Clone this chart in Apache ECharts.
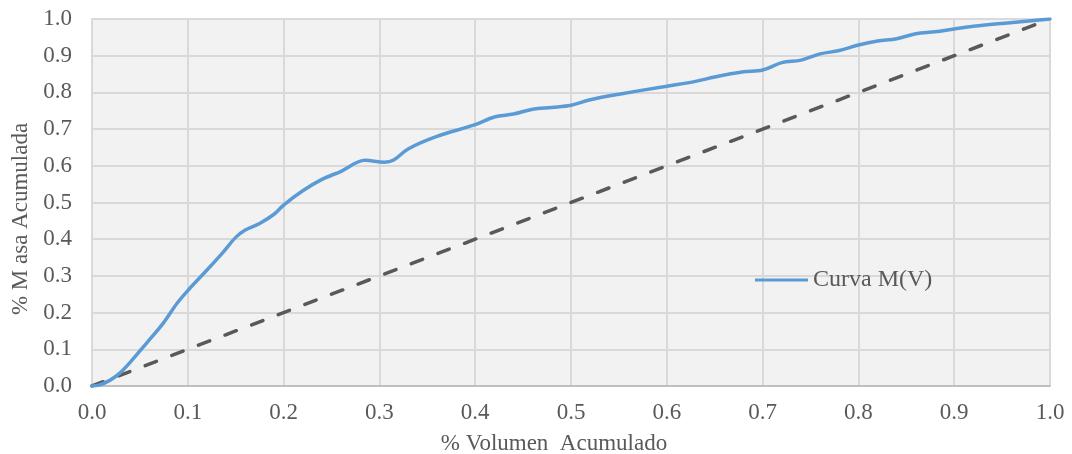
<!DOCTYPE html>
<html>
<head>
<meta charset="utf-8">
<script src="https://cdn.jsdelivr.net/npm/echarts@6/dist/echarts.min.js"></script>
<style>html,body{margin:0;padding:0;background:#fff}#c{width:1072px;height:454px}</style>
</head>
<body>
<div id="c"></div>
<script>
// Data
const volumen = [0, 0.008, 0.019, 0.029, 0.04, 0.057, 0.074, 0.089, 0.10, 0.12, 0.137, 0.15, 0.16, 0.175, 0.19, 0.2, 0.22, 0.24, 0.26, 0.285, 0.305, 0.315, 0.33, 0.36, 0.4, 0.42, 0.44, 0.46, 0.48, 0.5, 0.52, 0.55, 0.6, 0.63, 0.65, 0.68, 0.7, 0.72, 0.74, 0.76, 0.78, 0.8, 0.82, 0.84, 0.86, 0.88, 0.9, 0.92, 0.95, 1.0];
const masa =    [0, 0.003, 0.016, 0.035, 0.065, 0.117, 0.17, 0.226, 0.26, 0.316, 0.365, 0.405, 0.425, 0.443, 0.468, 0.493, 0.532, 0.563, 0.585, 0.615, 0.61, 0.616, 0.646, 0.68, 0.712, 0.733, 0.741, 0.754, 0.759, 0.765, 0.78, 0.795, 0.817, 0.83, 0.842, 0.856, 0.861, 0.881, 0.888, 0.905, 0.914, 0.929, 0.94, 0.946, 0.96, 0.965, 0.973, 0.98, 0.988, 1.0];
const diagX = [0, 1];
const diagY = [0, 1];
const serieNombre = 'Curva M(V)';
const tituloX = '% Volumen  Acumulado';
const tituloY = '% M asa Acumulada';

const font = '"Liberation Serif", "Times New Roman", serif';
const chart = echarts.init(document.getElementById('c'), null, {renderer: 'canvas'});
chart.setOption({
  animation: false,
  backgroundColor: '#ffffff',
  grid: {left: 92, right: 22, top: 19, bottom: 68, show: true, backgroundColor: '#f2f2f2', borderWidth: 0, outerBoundsMode: 'none', containLabel: false},
  legend: {
    data: [serieNombre],
    left: 750, top: 263,
    itemWidth: 53, itemHeight: 3, itemGap: 0,
    icon: 'rect',
    textStyle: {fontFamily: font, fontSize: 24, color: '#595959'}
  },
  xAxis: {
    type: 'value', min: 0, max: 1, interval: 0.1,
    name: tituloX, nameLocation: 'middle', nameGap: 46,
    nameTextStyle: {fontFamily: font, fontSize: 23, color: '#595959', padding: [0, 34, 0, 0]},
    axisLine: {show: true, lineStyle: {color: '#bfbfbf', width: 2}},
    axisTick: {show: false},
    splitLine: {show: true, lineStyle: {color: '#d9d9d9', width: 2}},
    axisLabel: {fontFamily: font, fontSize: 23, color: '#595959', margin: 15, formatter: v => v.toFixed(1)}
  },
  yAxis: {
    type: 'value', min: 0, max: 1, interval: 0.1,
    name: tituloY, nameLocation: 'middle', nameGap: 58,
    nameTextStyle: {fontFamily: font, fontSize: 23, color: '#595959', padding: [0, 33, 0, 0]},
    axisLine: {show: true, lineStyle: {color: '#d9d9d9', width: 2}},
    axisTick: {show: false},
    splitLine: {show: true, lineStyle: {color: '#d9d9d9', width: 2}},
    axisLabel: {fontFamily: font, fontSize: 23, color: '#595959', margin: 20, formatter: v => v.toFixed(1)}
  },
  series: [
    {
      name: 'Diagonal', type: 'line', showSymbol: false, symbol: 'none',
      data: diagX.map((x, i) => [x, diagY[i]]),
      lineStyle: {color: '#595959', width: 3.5, type: [12, 16.5], cap: 'round'},
      z: 2
    },
    {
      name: serieNombre, type: 'line', showSymbol: false, symbol: 'none', smooth: 0.35,
      data: volumen.map((x, i) => [x, masa[i]]),
      lineStyle: {color: '#5b9bd5', width: 3.5, cap: 'round'},
      itemStyle: {color: '#5b9bd5'},
      z: 3
    }
  ]
});
</script>
</body>
</html>
